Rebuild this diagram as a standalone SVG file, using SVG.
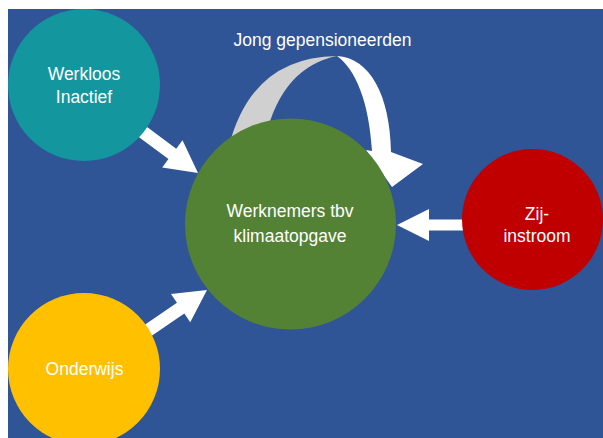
<svg xmlns="http://www.w3.org/2000/svg" width="603" height="438" viewBox="0 0 603 438">
<defs>
<style>
.lbl{font-family:"Liberation Sans",Arial,sans-serif;font-size:17.5px;fill:#ffffff;text-anchor:middle}
.arr{fill:#ffffff}
</style>
<clipPath id="bg"><rect x="8" y="9" width="595" height="429"/></clipPath>
<path id="blk" d="M-75,-6.5 L-32,-6.5 L-32,-17 L0,0 L-32,17 L-32,6.5 L-75,6.5 Z"/>
</defs>
<rect x="0" y="0" width="603" height="438" fill="#ffffff"/>
<rect x="8" y="9" width="595" height="429" fill="#2F5597"/>
<g clip-path="url(#bg)">
<g id="connectors">
<use href="#blk" class="arr" transform="translate(198,173) rotate(36.7)"/>
<use href="#blk" class="arr" transform="translate(207,290) rotate(-34.5)"/>
<path class="arr" d="M397,225 L429,209 L429,219.5 L467,219.5 L467,230.5 L429,230.5 L429,241 Z"/>
<path fill="#D0D0D0" d="M228,150 Q250,57 337,56 Q283,67 266,135 Z"/>
<path class="arr" d="M337,56 C370,58 390,95 391,152 L423,164 L392,187 L366,150 L372,151 C369,102 356,70 337,56 Z"/>
<text class="lbl" x="322.5" y="46">Jong gepensioneerden</text>
</g>
<g id="werkloos">
<circle cx="84" cy="85" r="76" fill="#14969F"/>
<text class="lbl" x="84" y="80">Werkloos</text>
<text class="lbl" x="84" y="103">Inactief</text>
</g>
<g id="werknemers">
<circle cx="290.5" cy="224" r="105.5" fill="#548235"/>
<text class="lbl" x="290" y="217">Werknemers tbv</text>
<text class="lbl" x="290" y="242">klimaatopgave</text>
</g>
<g id="zijinstroom">
<circle cx="532.5" cy="219.5" r="70.5" fill="#C00000"/>
<text class="lbl" x="537" y="220">Zij-</text>
<text class="lbl" x="537" y="242">instroom</text>
</g>
<g id="onderwijs">
<circle cx="84" cy="369" r="76" fill="#FFC000"/>
<text class="lbl" x="84.5" y="375">Onderwijs</text>
</g>
</g>
</svg>
